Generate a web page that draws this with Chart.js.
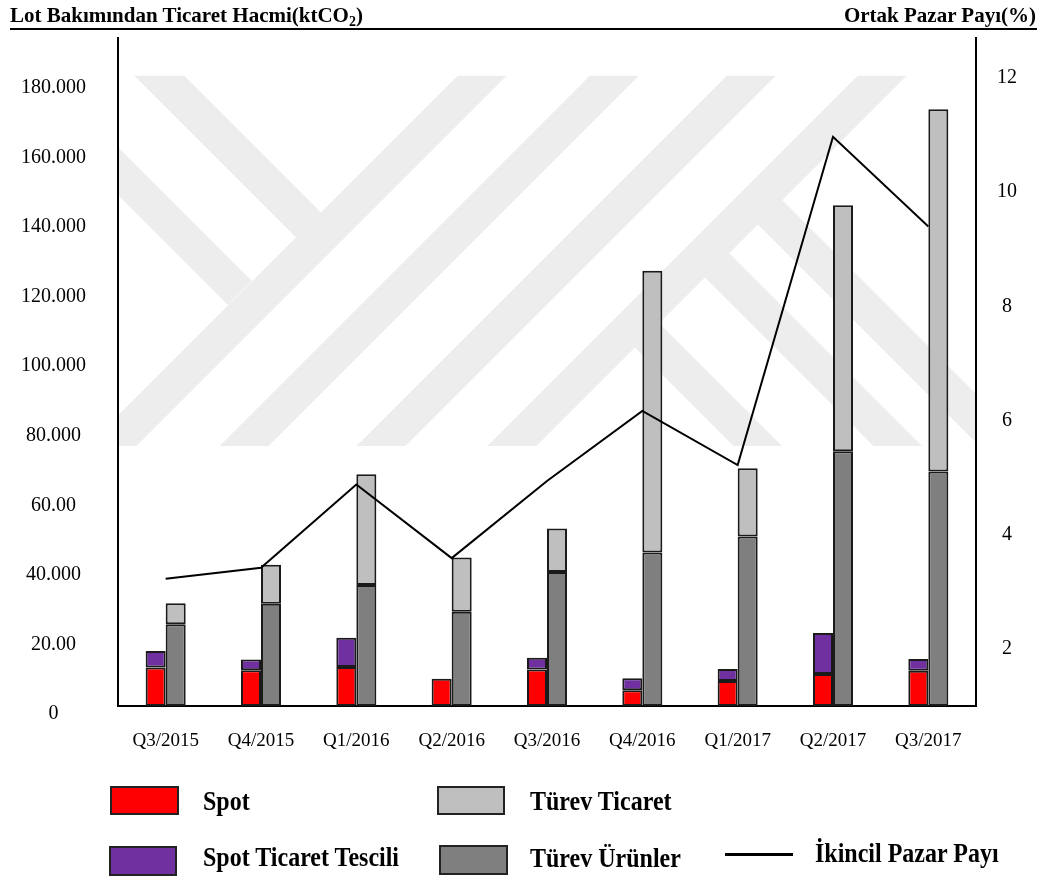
<!DOCTYPE html>
<html lang="tr">
<head>
<meta charset="utf-8">
<title>Lot Bakımından Ticaret Hacmi</title>
<script src="https://cdn.jsdelivr.net/npm/chart.js@4.4.1/dist/chart.umd.min.js"></script>
<style>
  html, body { margin: 0; padding: 0; background: #fff; }
  #wrap { position: relative; width: 1046px; height: 878px; overflow: hidden;
          font-family: "Liberation Serif", "Times New Roman", serif; color: #000; }
  #chart { position: absolute; left: 0; top: 0; }
  .hdr { position: absolute; top: 5px; font-weight: bold; font-size: 21px; line-height: 21px; white-space: nowrap; }
  .hdr sub { font-size: 14px; line-height: 0; vertical-align: -4px; }
  #hdrLeft { left: 10px; }
  #hdrRight { right: 10px; }
  #rule { position: absolute; left: 10px; top: 28px; width: 1027px; height: 2px; background: #000; }
  .sw { position: absolute; box-sizing: border-box; border: 2px solid #222; }
  .lg { position: absolute; font-weight: bold; font-size: 24px; line-height: 24px; white-space: nowrap;
        transform: scaleY(1.12); transform-origin: 0 20px; }
  .ln { position: absolute; height: 3px; background: #000; }
</style>
</head>
<body>
<div id="wrap">
  <canvas id="chart" width="1046" height="878"></canvas>
  <div class="hdr" id="hdrLeft">Lot Bakımından Ticaret Hacmi(ktCO<sub>2</sub>)</div>
  <div class="hdr" id="hdrRight">Ortak Pazar Payı(%)</div>
  <div id="rule"></div>
  <div id="legend"></div>
</div>
<script>
// Quarters shown on the category axis
const categories = ['Q3/2015', 'Q4/2015', 'Q1/2016', 'Q2/2016', 'Q3/2016', 'Q4/2016', 'Q1/2017', 'Q2/2017', 'Q3/2017'];

// Trading volume by lot, thousand ktCO2
const spot          = [11.1, 10.3, 11.2, 7.8, 10.5, 4.5, 7.2, 9.2, 10.1];
const spotTescil    = [4.7, 3.1, 8.4, 0, 3.4, 3.5, 3.4, 11.8, 3.4];
const turevUrunler  = [23.5, 29.4, 34.8, 27.1, 38.5, 44.1, 48.7, 73.2, 67.4];
const turevTicaret  = [6.0, 11.2, 31.8, 15.6, 12.5, 81.0, 19.6, 70.7, 104.1];

// Secondary market share, %
const ikincilPay    = [3.23, 3.42, 4.88, 3.59, 4.94, 6.17, 5.22, 10.97, 9.40];

// Axis ticks
const leftTickValues  = [0, 20, 40, 60, 80, 100, 120, 140, 160, 180];
const leftTickLabels  = ['0', '20.00', '40.000', '60.00', '80.000', '100.000', '120.000', '140.000', '160.000', '180.000'];
const rightTickValues = [2, 4, 6, 8, 10, 12];

const seriesNames = ['Spot', 'Spot Ticaret Tescili', 'Türev Ürünler', 'Türev Ticaret', 'İkincil Pazar Payı'];
const colors = { spot: '#ff0000', tescil: '#7030a0', urun: '#7f7f7f', ticaret: '#bfbfbf', line: '#000000' };

const serif = '"Liberation Serif", "Times New Roman", serif';

// Faint diagonal-band watermark behind the plot
const watermark = {
  id: 'watermark',
  beforeDraw(chart) {
    const ctx = chart.ctx;
    ctx.save();
    ctx.fillStyle = '#fff';
    ctx.fillRect(0, 0, chart.width, chart.height);
    const a = chart.chartArea;
    const top = 75.5, bottom = 446, w = 49, h = bottom - top;
    ctx.beginPath();
    ctx.rect(a.left, top, a.right - a.left, h);
    ctx.clip();
    ctx.fillStyle = '#ededed';
    const polys = [];
    [458, 590, 727, 858].forEach(L => polys.push([[L, top], [L + w, top], [L + w - h, bottom], [L - h, bottom]]));
    polys.push([[134, top], [184, top], [321, 212.5], [296, 237.5]]);
    polys.push([[60, 89], [252, 281], [228, 305], [60, 137]]);
    polys.push([[782, 200], [1082, 500], [1058, 524.5], [758, 224.5]]);
    polys.push([[729, 253], [1029, 553], [1005, 577.5], [705, 277.5]]);
    polys.push([[659, 323], [959, 623], [935, 647.5], [635, 347.5]]);
    polys.forEach(p => {
      ctx.beginPath();
      ctx.moveTo(p[0][0], p[0][1]);
      for (let i = 1; i < p.length; i++) ctx.lineTo(p[i][0], p[i][1]);
      ctx.closePath();
      ctx.fill();
    });
    ctx.restore();
  }
};

// Vertical axes: fixed width, no extra edge padding for the end labels
const fitVertical = width => s => { s.width = width; s.paddingTop = 0; s.paddingBottom = 0; };

const barCommon = { borderColor: '#1a1a1a', borderWidth: 2, borderSkipped: false,
                    barPercentage: 1.0, categoryPercentage: 0.42, yAxisID: 'y', order: 1 };

new Chart(document.getElementById('chart'), {
  type: 'bar',
  data: {
    labels: categories,
    datasets: [
      { ...barCommon, type: 'bar', label: seriesNames[0], data: spot, backgroundColor: colors.spot, stack: 'spot' },
      { ...barCommon, type: 'bar', label: seriesNames[1], data: spotTescil, backgroundColor: colors.tescil, stack: 'spot' },
      { ...barCommon, type: 'bar', label: seriesNames[2], data: turevUrunler, backgroundColor: colors.urun, stack: 'turev' },
      { ...barCommon, type: 'bar', label: seriesNames[3], data: turevTicaret, backgroundColor: colors.ticaret, stack: 'turev' },
      { type: 'line', label: seriesNames[4], data: ikincilPay, yAxisID: 'y1', order: 0,
        borderColor: colors.line, borderWidth: 2, pointRadius: 0, tension: 0, fill: false }
    ]
  },
  options: {
    responsive: false,
    devicePixelRatio: 1,
    animation: false,
    layout: { padding: { left: 0, right: 0, top: 38, bottom: 112 } },
    plugins: { legend: { display: false }, tooltip: { enabled: false }, title: { display: false } },
    scales: {
      x: {
        stacked: true,
        offset: true,
        grid: { display: false, drawTicks: false },
        border: { display: true, color: '#000', width: 2 },
        ticks: { color: '#000', font: { family: serif, size: 19 }, padding: 24, maxRotation: 0, autoSkip: false },
        afterFit: s => { s.height = 60; }
      },
      y: {
        position: 'left',
        stacked: true,
        min: 0,
        max: 192,
        grid: { display: false, drawTicks: false },
        border: { display: true, color: '#000', width: 2 },
        afterBuildTicks: s => { s.ticks = leftTickValues.map(v => ({ value: v })); },
        afterFit: fitVertical(118),
        ticks: {
          color: '#000', font: { family: serif, size: 20 }, padding: 32, crossAlign: 'center',
          labelOffset: 8, autoSkip: false,
          callback: (v, i) => leftTickLabels[i]
        }
      },
      y1: {
        position: 'right',
        min: 1,
        max: 12.7,
        grid: { display: false, drawTicks: false },
        border: { display: true, color: '#000', width: 2 },
        afterBuildTicks: s => { s.ticks = rightTickValues.map(v => ({ value: v })); },
        afterFit: fitVertical(70),
        ticks: { color: '#000', font: { family: serif, size: 20 }, padding: 21, crossAlign: 'center', autoSkip: false,
                 callback: v => String(v) }
      }
    }
  },
  plugins: [watermark]
});

// Legend: swatch/line boxes and labels
const legendLayout = [
  { name: seriesNames[0], fill: colors.spot,    box: [110, 786, 69, 29], text: [203, 790] },
  { name: seriesNames[3], fill: colors.ticaret, box: [437, 786, 68, 29], text: [530, 790] },
  { name: seriesNames[1], fill: colors.tescil,  box: [109, 846, 68, 30], text: [203, 846] },
  { name: seriesNames[2], fill: colors.urun,    box: [439, 845, 69, 30], text: [530, 847] },
  { name: seriesNames[4], line: colors.line,    box: [725, 853, 68, 3],  text: [815, 842] }
];
const legendEl = document.getElementById('legend');
legendLayout.forEach(item => {
  const b = document.createElement('div');
  b.className = item.line ? 'ln' : 'sw';
  b.style.left = item.box[0] + 'px';
  b.style.top = item.box[1] + 'px';
  b.style.width = item.box[2] + 'px';
  if (item.line) { b.style.background = item.line; }
  else { b.style.height = item.box[3] + 'px'; b.style.background = item.fill; }
  legendEl.appendChild(b);
  const t = document.createElement('div');
  t.className = 'lg';
  t.style.left = item.text[0] + 'px';
  t.style.top = item.text[1] + 'px';
  t.textContent = item.name;
  legendEl.appendChild(t);
});
</script>
</body>
</html>
